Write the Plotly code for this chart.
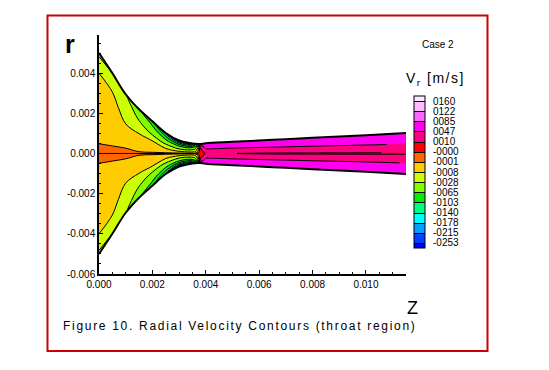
import numpy as np
import plotly.graph_objects as go

# ---------------- data ----------------
# axial stations (m) and nozzle wall radius (m) at each station
Z_STATIONS = [0.0, 0.0005, 0.001, 0.0015, 0.002, 0.0025, 0.003, 0.0034, 0.0036,
              0.0037, 0.0038, 0.0040, 0.005, 0.0065, 0.008, 0.010, 0.0115]
WALL_R = [0.0050, 0.0040, 0.00295, 0.0022, 0.0016, 0.00102, 0.00065, 0.00052, 0.00048,
          0.00047, 0.00047, 0.00051, 0.00058, 0.00068, 0.00078, 0.00091, 0.00102]
# normalised radius r/R (upper half; lower half is the mirror image)
ETA = [0.0, 0.04, 0.1, 0.2, 0.35, 0.5, 0.65, 0.8, 0.9, 0.96, 1.0]
# radial velocity Vr [m/s], one row per axial station, one column per ETA
VR_HALF = [
    [-0.00025, -0.0006, -0.0012, -0.0020, -0.0030, -0.0045, -0.0060, -0.0080, -0.0110, -0.0090, -0.0050],
    [-0.00025, -0.0007, -0.0013, -0.0022, -0.0035, -0.0050, -0.0068, -0.0090, -0.0120, -0.0130, -0.0080],
    [-0.00025, -0.0008, -0.0014, -0.0025, -0.0045, -0.0080, -0.0120, -0.0170, -0.0210, -0.0240, -0.0260],
    [-0.00025, -0.0010, -0.0016, -0.0030, -0.0060, -0.0110, -0.0220, -0.0340, -0.0440, -0.0540, -0.0620],
    [-0.00025, -0.0015, -0.0022, -0.0040, -0.0060, -0.0220, -0.0380, -0.0550, -0.0700, -0.0800, -0.0850],
    [-0.00025, -0.0018, -0.0035, -0.0065, -0.0180, -0.0350, -0.0600, -0.0900, -0.1200, -0.1450, -0.1600],
    [-0.00025, -0.0020, -0.0050, -0.0120, -0.0280, -0.0500, -0.0850, -0.1400, -0.1900, -0.2300, -0.2600],
    [-0.00025, -0.0022, -0.0060, -0.0150, -0.0300, -0.0550, -0.0900, -0.1500, -0.2000, -0.2400, -0.2700],
    [-0.00025, -0.0020, -0.0050, -0.0100, -0.0200, -0.0350, -0.0550, -0.0900, -0.1200, -0.1400, -0.1500],
    [0.002, 0.0010, -0.0005, -0.0020, -0.0040, -0.0060, -0.0080, -0.0100, -0.0100, -0.0100, -0.0100],
    [0.004, 0.0040, 0.0050, 0.0060, 0.0070, 0.0090, 0.0120, 0.0400, 0.0550, 0.0600, 0.0600],
    [0.012, 0.0130, 0.0160, 0.0220, 0.0360, 0.0500, 0.0600, 0.0660, 0.0700, 0.0700, 0.0680],
    [0.0115, 0.0130, 0.0170, 0.0250, 0.0380, 0.0500, 0.0620, 0.0680, 0.0720, 0.0730, 0.0700],
    [0.007, 0.0110, 0.0160, 0.0250, 0.0380, 0.0500, 0.0620, 0.0680, 0.0720, 0.0730, 0.0700],
    [0.006, 0.0110, 0.0160, 0.0250, 0.0380, 0.0500, 0.0620, 0.0680, 0.0720, 0.0730, 0.0700],
    [0.005, 0.0110, 0.0160, 0.0250, 0.0380, 0.0500, 0.0620, 0.0680, 0.0720, 0.0730, 0.0700],
    [0.002, 0.0110, 0.0160, 0.0250, 0.0380, 0.0500, 0.0620, 0.0680, 0.0720, 0.0730, 0.0700],
]
# contour levels (ascending) and their legend labels as printed
LEVELS = [-0.253, -0.215, -0.178, -0.140, -0.103, -0.065, -0.028, -0.008, -0.001,
          -0.0003, 0.010, 0.047, 0.085, 0.122, 0.160]
LEVEL_LABELS = ["-0253", "-0215", "-0178", "-0140", "-0103", "-0065", "-0028", "-0008",
                "-0001", "-0000", "0010", "0047", "0085", "0122", "0160"]
# band colours from below the lowest level to above the highest level
BAND_COLORS = ["#0000FF", "#0040FF", "#00A0FF", "#00FFFF", "#00FF80", "#00EE00",
               "#80FF00", "#CCFF00", "#FFCC00", "#FF6600", "#FF0000", "#FF0080",
               "#FF00F0", "#FF66FF", "#FFBBFF", "#FFE6FF"]
X_TICKS = [0.000, 0.002, 0.004, 0.006, 0.008, 0.010]
Y_TICKS = [-0.006, -0.004, -0.002, 0.000, 0.002, 0.004]

# ---------------- build the curvilinear grid ----------------
z = np.array(Z_STATIONS)
R = np.array(WALL_R)
eta = np.array(ETA)
eta_full = np.concatenate([-eta[:0:-1], eta])
vr = np.array(VR_HALF).T
vr_full = np.vstack([vr[:0:-1], vr])

x2d = np.tile(z, (len(eta_full), 1))
y2d = eta_full[:, None] * R[None, :]

lv = np.array(LEVELS)
k = np.arange(len(lv), dtype=float)
idx = np.interp(vr_full, lv, k)
idx = np.where(vr_full < lv[0], (vr_full - lv[0]) / (lv[1] - lv[0]), idx)
idx = np.where(vr_full > lv[-1], len(lv) - 1 + (vr_full - lv[-1]) / (lv[-1] - lv[-2]), idx)

n = len(BAND_COLORS) - 1
colorscale = [[j / n, c] for j, c in enumerate(BAND_COLORS)]

PW, PH, L, T = 307, 239, 99, 35
def px(xp):
    return (xp - L) / PW
def py(yp):
    return (T + PH - yp) / PH

FONT = "Liberation Sans, Arial, sans-serif"
TICKFONT = dict(family=FONT, size=10, color="black")

fig = go.Figure()
fig.add_trace(go.Contourcarpet(
    a=Z_STATIONS, b=eta_full.tolist(), z=idx.tolist(), carpet="nozzle",
    autocontour=False,
    contours=dict(start=0, end=len(lv) - 1, size=1, coloring="fill", showlines=True),
    line=dict(color="black", width=1),
    colorscale=colorscale,
    colorbar=dict(
        x=px(414), xanchor="left", y=py(172), yanchor="middle",
        thickness=11, thicknessmode="pixels", len=152, lenmode="pixels",
        outlinecolor="black", outlinewidth=1,
        tickmode="array", tickvals=k.tolist(), ticktext=LEVEL_LABELS,
        ticks="outside", ticklen=6, tickcolor="rgba(0,0,0,0)",
        tickfont=dict(family=FONT, size=10, color="black"),
        xpad=0, ypad=0,
    ),
))
fig.add_trace(go.Carpet(
    a=Z_STATIONS, b=eta_full.tolist(), x=x2d.tolist(), y=y2d.tolist(), carpet="nozzle",
    aaxis=dict(showgrid=False, showline=False, showticklabels="none", minorgridcount=0,
               startline=False, endline=False, smoothing=1),
    baxis=dict(showgrid=False, showline=False, showticklabels="none", minorgridcount=0,
               startline=True, endline=True, startlinecolor="black", endlinecolor="black",
               startlinewidth=2, endlinewidth=2, smoothing=0),
))

axis_common = dict(showline=True, linecolor="black", linewidth=1.5, showgrid=False,
                   zeroline=False, ticks="inside", ticklen=4, tickwidth=1, tickcolor="black",
                   tickfont=TICKFONT,
                   minor=dict(tickmode="linear", tick0=0, dtick=0.0005, ticks="inside",
                              ticklen=2.5, tickcolor="black", showgrid=False))
fig.update_layout(
    width=549, height=370,
    margin=dict(l=L, r=549 - L - PW, t=T, b=370 - T - PH),
    paper_bgcolor="white", plot_bgcolor="white",
    showlegend=False,
    xaxis=dict(range=[0, 0.0115], tickmode="array", tickvals=X_TICKS,
               ticktext=[f"{v:.3f}" for v in X_TICKS], **axis_common),
    yaxis=dict(range=[-0.006, 0.0059], tickmode="array", tickvals=Y_TICKS,
               ticktext=[f"{v:.3f}" for v in Y_TICKS], **axis_common),
    font=dict(family=FONT, color="black"),
)

ann = [
    dict(text="<b>r</b>", x=px(70), y=py(44), font=dict(size=25)),
    dict(text="Z", x=px(412), y=py(308), font=dict(size=18)),
    dict(text='<span style="letter-spacing:1.7px">Figure 10. Radial Velocity Contours (throat region)</span>',
         x=px(240), y=py(326), font=dict(size=12)),
    dict(text="Case 2", x=px(438), y=py(44), font=dict(size=10)),
    dict(text='<span style="letter-spacing:1.5px">V<sub>r</sub> [m/s]</span>', x=px(435), y=py(79),
         font=dict(size=14)),
]
for a in ann:
    fig.add_annotation(xref="paper", yref="paper", showarrow=False,
                       xanchor="center", yanchor="middle", **a)

fig.add_shape(type="rect", xref="paper", yref="paper",
              x0=px(47.5), x1=px(487.5), y0=py(351), y1=py(15.5),
              line=dict(color="#CC0000", width=2))

fig.write_html("out.html", config={"displayModeBar": False},
               post_script="document.body.style.margin='0px';")
